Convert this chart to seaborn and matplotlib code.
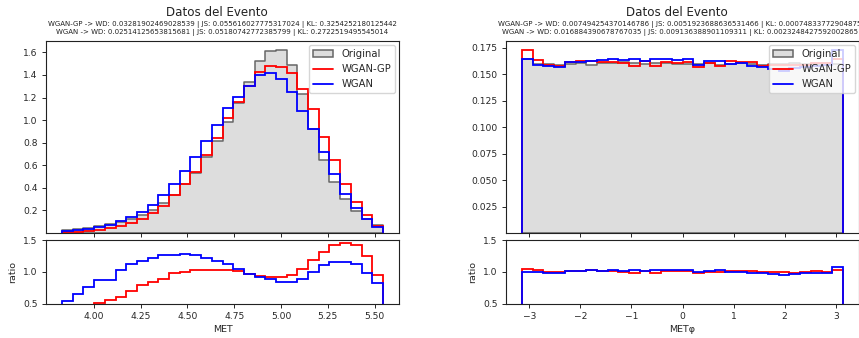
import numpy as np
import pandas as pd
import matplotlib
matplotlib.use("Agg")
import matplotlib.pyplot as plt
import seaborn as sns
from matplotlib.patches import Patch
from matplotlib.lines import Line2D

# ---- MET histogram (normalised densities, 30 bins) ----
met_range = (3.83, 5.545)
met_original = [0.028, 0.038, 0.046, 0.058, 0.080, 0.100, 0.128, 0.162, 0.208, 0.270,
                0.340, 0.430, 0.530, 0.670, 0.815, 0.985, 1.150, 1.340, 1.520, 1.610,
                1.620, 1.490, 1.230, 0.920, 0.650, 0.455, 0.300, 0.195, 0.125, 0.068]
met_wgan_gp = [0.007, 0.0125, 0.019, 0.0293, 0.044, 0.061, 0.090, 0.128, 0.175, 0.240,
               0.333, 0.430, 0.541, 0.690, 0.839, 1.015, 1.162, 1.300, 1.429, 1.481,
               1.474, 1.416, 1.279, 1.095, 0.852, 0.646, 0.435, 0.277, 0.156, 0.065]
met_wgan = [0.0151, 0.0247, 0.035, 0.0505, 0.0696, 0.102, 0.143, 0.190, 0.252, 0.340,
            0.432, 0.550, 0.673, 0.817, 0.954, 1.103, 1.208, 1.300, 1.398, 1.417,
            1.361, 1.252, 1.082, 0.920, 0.715, 0.523, 0.345, 0.220, 0.1225, 0.0558]

# ---- MET phi histogram ----
phi_range = (-np.pi, np.pi)
phi_original = [0.1645, 0.160, 0.160, 0.159, 0.160, 0.161, 0.159, 0.161, 0.161, 0.162,
                0.161, 0.160, 0.161, 0.161, 0.160, 0.160, 0.160, 0.161, 0.159, 0.160,
                0.161, 0.160, 0.159, 0.160, 0.160, 0.161, 0.160, 0.160, 0.161, 0.160]
phi_wgan_gp = [0.1727, 0.1632, 0.1592, 0.1582, 0.1616, 0.1626, 0.1622, 0.1618, 0.1618, 0.1604,
               0.1578, 0.1624, 0.1578, 0.1618, 0.1608, 0.1616, 0.1568, 0.1602, 0.1574, 0.1624,
               0.1618, 0.1616, 0.1582, 0.1584, 0.1584, 0.1586, 0.1584, 0.1608, 0.1602, 0.1648]
phi_wgan = [0.1645, 0.1592, 0.1576, 0.1566, 0.1616, 0.1618, 0.1622, 0.1634, 0.1642, 0.1636,
            0.1642, 0.1624, 0.1642, 0.1642, 0.1632, 0.1648, 0.1592, 0.1626, 0.1622, 0.1600,
            0.1610, 0.1576, 0.1566, 0.1552, 0.1528, 0.1562, 0.1568, 0.1576, 0.1586, 0.1728]

met_metrics = [
    "WGAN-GP -> WD: 0.03281902469028539 | JS: 0.055616027775317024 | KL: 0.3254252180125442",
    "WGAN -> WD: 0.02514125653815681 | JS: 0.05180742772385799 | KL: 0.2722519495545014",
]
phi_metrics = [
    "WGAN-GP -> WD: 0.007494254370146786 | JS: 0.0051923688636531466 | KL: 0.00074833772904875",
    "WGAN -> WD: 0.016884390678767035 | JS: 0.009136388901109311 | KL: 0.0023248427592002865",
]

N_BINS = 30
FILL = "#dddddd"
EDGE = "#666666"
LW = 1.3

sns.set_theme(style="ticks", rc={
    "axes.edgecolor": "#222222",
    "axes.linewidth": 0.8,
    "xtick.labelsize": 6.6,
    "ytick.labelsize": 6.6,
    "axes.labelsize": 6.8,
    "xtick.major.size": 2.6,
    "ytick.major.size": 2.6,
    "xtick.major.width": 0.7,
    "ytick.major.width": 0.7,
})
plt.rcParams["font.family"] = ["DejaVu Sans"]

W, H = 859, 338
fig = plt.figure(figsize=(W / 100, H / 100), dpi=100)


def px_axes(x0, x1, y0, y1):
    return fig.add_axes([x0 / W, 1 - y1 / H, (x1 - x0) / W, (y1 - y0) / H])


def draw_panel(x0, x1, rng, orig, gp, wg, xlabel, yticks, xticks):
    ax = px_axes(x0, x1, 41, 233)
    axr = px_axes(x0, x1, 240, 303.5)
    edges = np.linspace(rng[0], rng[1], N_BINS + 1)
    centers = 0.5 * (edges[:-1] + edges[1:])
    orig = np.asarray(orig, dtype=float)
    gp = np.asarray(gp, dtype=float)
    wg = np.asarray(wg, dtype=float)
    frame = pd.DataFrame({"value": centers, "density": orig})

    sns.histplot(data=frame, x="value", weights="density", bins=N_BINS, binrange=rng,
                 element="step", fill=True, color=FILL, alpha=1.0,
                 edgecolor=EDGE, linewidth=1.1, ax=ax)
    ax.stairs(gp, edges, baseline=0, color="red", linewidth=LW)
    ax.stairs(wg, edges, baseline=0, color="blue", linewidth=LW)
    span = edges[-1] - edges[0]
    xlim = (edges[0] - 0.05 * span, edges[-1] + 0.05 * span)
    ax.set_xlim(xlim)
    ax.set_ylim(0, 1.05 * max(orig.max(), gp.max(), wg.max()))
    ax.set_yticks(yticks)
    ax.set_xticks(xticks)
    ax.set_ylabel("")
    ax.set_xlabel("")
    ax.tick_params(axis="x", labelbottom=False)

    axr.stairs(gp / orig, edges, baseline=0, color="red", linewidth=LW)
    axr.stairs(wg / orig, edges, baseline=0, color="blue", linewidth=LW)
    axr.set_xlim(xlim)
    axr.set_xticks(xticks)
    axr.set_ylim(0.5, 1.5)
    axr.set_yticks([0.5, 1.0, 1.5])
    axr.set_ylabel("ratio", labelpad=4)
    axr.set_xlabel(xlabel, labelpad=3)

    handles = [Patch(facecolor=FILL, edgecolor=EDGE, linewidth=1.1),
               Line2D([], [], color="red", linewidth=LW),
               Line2D([], [], color="blue", linewidth=LW)]
    ax.legend(handles, ["Original", "WGAN-GP", "WGAN"], loc="upper right",
              fontsize=7.2, frameon=True, framealpha=0.8, edgecolor="#cccccc",
              fancybox=True, borderaxespad=0.4)
    return ax, axr


draw_panel(46, 399, met_range, met_original, met_wgan_gp, met_wgan, "MET",
           [0.2, 0.4, 0.6, 0.8, 1.0, 1.2, 1.4, 1.6],
           [4.0, 4.25, 4.5, 4.75, 5.0, 5.25, 5.5])
draw_panel(506, 859, phi_range, phi_original, phi_wgan_gp, phi_wgan, "METφ",
           [0.025, 0.05, 0.075, 0.1, 0.125, 0.15, 0.175],
           [-3, -2, -1, 0, 1, 2, 3])

for cx_title, cx_sub, lines in [(216.5, 222.5, met_metrics), (677, 679.5, phi_metrics)]:
    fig.text(cx_title / W, 1 - 12.5 / H, "Datos del Evento", ha="center", va="center",
             fontsize=8.6, color="#222222")
    fig.text(cx_sub / W, 1 - 24.5 / H, lines[0], ha="center", va="center",
             fontsize=5.0, color="#222222")
    fig.text(cx_sub / W, 1 - 32.5 / H, lines[1], ha="center", va="center",
             fontsize=5.0, color="#222222")

fig.savefig("out.png", dpi=100)
